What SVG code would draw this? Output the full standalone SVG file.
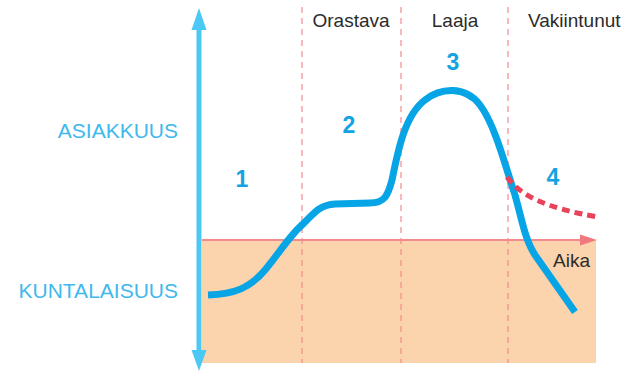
<svg xmlns="http://www.w3.org/2000/svg" width="628" height="372" viewBox="0 0 628 372">
<defs>
<style>
.lbl{font-family:"Liberation Sans",Arial,sans-serif;font-size:19px;fill:#2b2b2b}
.ax{font-family:"Liberation Sans",Arial,sans-serif;font-size:21px;fill:#3fb8ee;text-anchor:end}
.num{font-family:"Liberation Sans",Arial,sans-serif;font-size:23px;font-weight:bold;fill:#12a3e3;text-anchor:middle}
.div{stroke:#f28b8e;stroke-width:1.2;stroke-dasharray:6 5;fill:none}
</style>
</defs>
<rect width="628" height="372" fill="#ffffff"/>
<g id="area">
<rect x="202" y="240" width="394" height="123" fill="#fbd3ad"/>
</g>
<g id="dividers">
<line class="div" x1="302" y1="7" x2="302" y2="363"/>
<line class="div" x1="401" y1="7" x2="401" y2="363"/>
<line class="div" x1="508" y1="7" x2="508" y2="363"/>
</g>
<g id="connectors">
<g id="time-axis">
<line x1="202" y1="240" x2="582" y2="240" stroke="#f28b8e" stroke-width="2"/>
<polygon points="597,240 580,234.5 580,245.5" fill="#f2787f"/>
</g>
<g id="vertical-axis">
<line x1="199" y1="26" x2="199" y2="354" stroke="#4cc8f4" stroke-width="5"/>
<polygon points="199,8 191.5,30 206.5,30" fill="#4cc8f4"/>
<polygon points="199,371 191.5,350 206.5,350" fill="#4cc8f4"/>
</g>
<path id="curve" d="M208,295 C235,294 250,288 265,270 C280,252 290,235 303,224 C315,212 320,205 335,204 L370,203 C385,203 388,195 392,180 C398,150 405,115 425,100 C440,88 465,85 480,105 C495,125 505,165 515,195 C522,220 525,240 535,255 L575,312" fill="none" stroke="#07a5e6" stroke-width="7" stroke-linejoin="round"/>
<path id="dotted" d="M507,177 C520,195 545,208 598,217" fill="none" stroke="#e8435a" stroke-width="5" stroke-dasharray="8 5"/>
</g>
<g id="phase-labels">
<text class="lbl" x="351" y="27" text-anchor="middle">Orastava</text>
<text class="lbl" x="455" y="27" text-anchor="middle">Laaja</text>
<text class="lbl" x="528" y="27">Vakiintunut</text>
<text class="lbl" x="553" y="267">Aika</text>
</g>
<g id="axis-labels">
<text class="ax" x="178" y="138">ASIAKKUUS</text>
<text class="ax" x="178" y="298">KUNTALAISUUS</text>
</g>
<g id="numbers">
<text class="num" x="242" y="187">1</text>
<text class="num" x="349" y="133">2</text>
<text class="num" x="453" y="70">3</text>
<text class="num" x="553" y="185">4</text>
</g>
</svg>
